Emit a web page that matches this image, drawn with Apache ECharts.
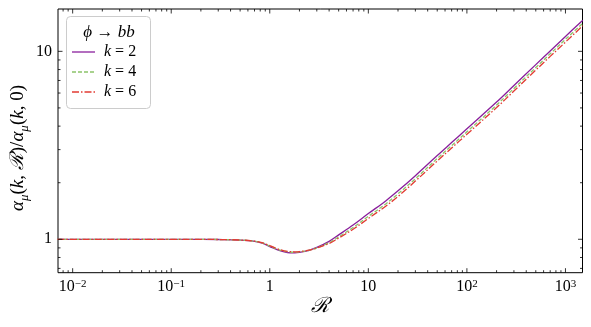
<!DOCTYPE html>
<html><head><meta charset="utf-8">
<script src="https://cdn.jsdelivr.net/npm/echarts@6/dist/echarts.min.js"></script>
<style>html,body{margin:0;padding:0;background:#fff}#c{width:591px;height:327px}</style>
</head><body><div id="c"></div>
<script>
const R = [0.007, 0.01, 0.03, 0.1, 0.2, 0.3, 0.5, 0.7, 0.85, 1.0, 1.2, 1.4, 1.6, 1.8, 2.0, 2.5, 3, 4, 5, 7, 10, 15, 20, 30, 50, 70, 100, 200, 300, 500, 700, 1000, 1500];
const k2 = [1.0,1.0,1.0,1.0,0.999,0.997,0.99,0.975,0.95,0.915,0.878,0.858,0.848,0.847,0.852,0.874,0.905,0.975,1.055,1.19,1.37,1.60,1.81,2.18,2.79,3.27,3.87,5.37,6.58,8.5,10.05,12.0,14.65];
const k4 = [1.0,1.0,1.0,1.0,0.999,0.997,0.99,0.977,0.953,0.92,0.885,0.864,0.855,0.853,0.856,0.874,0.9,0.96,1.03,1.155,1.325,1.54,1.745,2.1,2.69,3.15,3.73,5.18,6.35,8.2,9.7,11.58,14.1];
const k6 = [1.0,1.0,1.0,1.0,0.999,0.997,0.991,0.978,0.956,0.925,0.89,0.868,0.86,0.858,0.86,0.875,0.898,0.95,1.015,1.13,1.29,1.5,1.69,2.04,2.61,3.06,3.62,5.02,6.15,7.95,9.4,11.2,13.7];
const seriesNames = ['k = 2', 'k = 4', 'k = 6'];
const legendValues = ['2', '4', '6'];
const legendTitle = '{i|ϕ}{n| → }{i|bb}';
const xMajorTicks = [0.01, 0.1, 1, 10, 100, 1000];
const xTickLabels = ['10{s|−2}', '10{s|−1}', '1', '10', '10{s|2}', '10{s|3}'];
const xMinorTicks = [0.008,0.009,0.02,0.03,0.04,0.05,0.06,0.07,0.08,0.09,0.2,0.3,0.4,0.5,0.6,0.7,0.8,0.9,2,3,4,5,6,7,8,9,20,30,40,50,60,70,80,90,200,300,400,500,600,700,800,900];
const yMajorTicks = [1, 10];
const yTickLabels = ['1', '10'];
const yMinorTicks = [0.7,0.8,0.9,2,3,4,5,6,7,8,9];
const X_MIN = 0.0071, X_MAX = 1489, Y_MIN = 0.664, Y_MAX = 16.8;

const FAM = "'Liberation Serif', 'DejaVu Serif', serif";
function f(size, italic) { return (italic ? 'italic ' : '') + size + 'px ' + FAM; }
const colors = ['#8a1f9c', '#8cc46a', '#e23b33'];
const dashes = ['solid', [4, 2], [7, 2, 1.5, 2]];

const chart = echarts.init(document.getElementById('c'), null, {renderer: 'canvas'});

function tickSeries(axis, vals, len, labels) {
  return {
    type: 'custom', silent: true, clip: false, z: 5,
    data: vals.map(v => axis === 'x' ? [v, 1] : [1, v]),
    renderItem: function (params, api) {
      const st = {stroke: '#000', lineWidth: 0.8};
      const children = [];
      if (axis === 'x') {
        const v = api.value(0);
        const a = api.coord([v, Y_MIN]), b = api.coord([v, Y_MAX]);
        children.push({type: 'line', shape: {x1: a[0], y1: a[1], x2: a[0], y2: a[1] - len}, style: st});
        children.push({type: 'line', shape: {x1: b[0], y1: b[1], x2: b[0], y2: b[1] + len}, style: st});
        if (labels) {
          children.push({type: 'text', x: a[0], y: a[1] + 6, style: {
            text: labels[params.dataIndex], align: 'center', verticalAlign: 'top',
            font: f(16), fill: '#000',
            rich: {s: {font: f(11), verticalAlign: 'top', lineHeight: 10, fill: '#000'}}
          }});
        }
      } else {
        const v = api.value(1);
        const a = api.coord([X_MIN, v]), b = api.coord([X_MAX, v]);
        children.push({type: 'line', shape: {x1: a[0], y1: a[1], x2: a[0] + len, y2: a[1]}, style: st});
        children.push({type: 'line', shape: {x1: b[0], y1: b[1], x2: b[0] - len, y2: b[1]}, style: st});
        if (labels) {
          children.push({type: 'text', x: a[0] - 6, y: a[1], style: {
            text: labels[params.dataIndex], align: 'right', verticalAlign: 'middle',
            font: f(16), fill: '#000'
          }});
        }
      }
      return {type: 'group', children: children};
    }
  };
}

const dataSets = [k2, k4, k6];
const lineSeries = dataSets.map((d, i) => ({
  name: seriesNames[i], type: 'line', showSymbol: false, symbol: 'none', smooth: 0.35,
  data: R.map((r, j) => [r, d[j]]),
  lineStyle: {color: colors[i], width: 1.3, type: dashes[i]},
  itemStyle: {color: colors[i]},
  z: 2 + i
}));

const legendGraphics = [];
seriesNames.forEach((n, i) => {
  const y = 52 + 20 * i;
  legendGraphics.push({type: 'line', z: 20, shape: {x1: 72, y1: y, x2: 95, y2: y},
    style: {stroke: colors[i], lineWidth: 1.3, lineDash: dashes[i] === 'solid' ? null : dashes[i]}});
  legendGraphics.push({type: 'text', z: 20, x: 104, y: y, style: {
    text: '{i|k}{n| = ' + legendValues[i] + '}', align: 'left', verticalAlign: 'middle', font: f(16), fill: '#000',
    rich: {i: {font: f(16, true), fill: '#000'}, n: {font: f(16), fill: '#000'}}}});
});

const option = {
  animation: false,
  backgroundColor: '#fff',
  grid: {left: 58, right: 8.5, top: 9, bottom: 54.3, show: true, borderColor: '#000', borderWidth: 1, backgroundColor: 'transparent', containLabel: false},
  xAxis: {type: 'log', logBase: 10, min: X_MIN, max: X_MAX,
    axisLine: {show: false}, axisTick: {show: false}, axisLabel: {show: false}, splitLine: {show: false}},
  yAxis: {type: 'log', logBase: 10, min: Y_MIN, max: Y_MAX,
    axisLine: {show: false}, axisTick: {show: false}, axisLabel: {show: false}, splitLine: {show: false}},
  graphic: [
    {type: 'rect', z: 15, shape: {x: 66.5, y: 16.5, width: 84, height: 92, r: 4},
      style: {fill: 'rgba(255,255,255,0.8)', stroke: '#cccccc', lineWidth: 1}},
    {type: 'text', z: 20, x: 109, y: 33, style: {text: legendTitle, align: 'center', verticalAlign: 'middle',
      font: f(17), fill: '#000',
      rich: {i: {font: f(17, true), fill: '#000'}, n: {font: f(17), fill: '#000'}}}},
    {type: 'text', z: 10, x: 320, y: 306, style: {text: 'ℛ', align: 'center', verticalAlign: 'middle',
      font: f(21, true), fill: '#000'}},
    {type: 'text', z: 10, x: 18, y: 148, rotation: Math.PI / 2, style: {
      text: '{i|α}{b|μ}{n|(}{i|k}{n|, }{i|ℛ}{n|)/}{i|α}{b|μ}{n|(}{i|k}{n|, 0)}',
      align: 'center', verticalAlign: 'middle', font: f(19), fill: '#000',
      rich: {
        i: {font: f(19, true), lineHeight: 26, fill: '#000'},
        n: {font: f(19), lineHeight: 26, fill: '#000'},
        b: {font: f(13, true), verticalAlign: 'bottom', lineHeight: 12, fill: '#000'}
      }}}
  ].concat(legendGraphics),
  series: lineSeries.concat([
    tickSeries('x', xMajorTicks, 4.5, xTickLabels),
    tickSeries('x', xMinorTicks, 2.5, null),
    tickSeries('y', yMajorTicks, 4.5, yTickLabels),
    tickSeries('y', yMinorTicks, 2.5, null)
  ])
};
chart.setOption(option);
</script></body></html>
